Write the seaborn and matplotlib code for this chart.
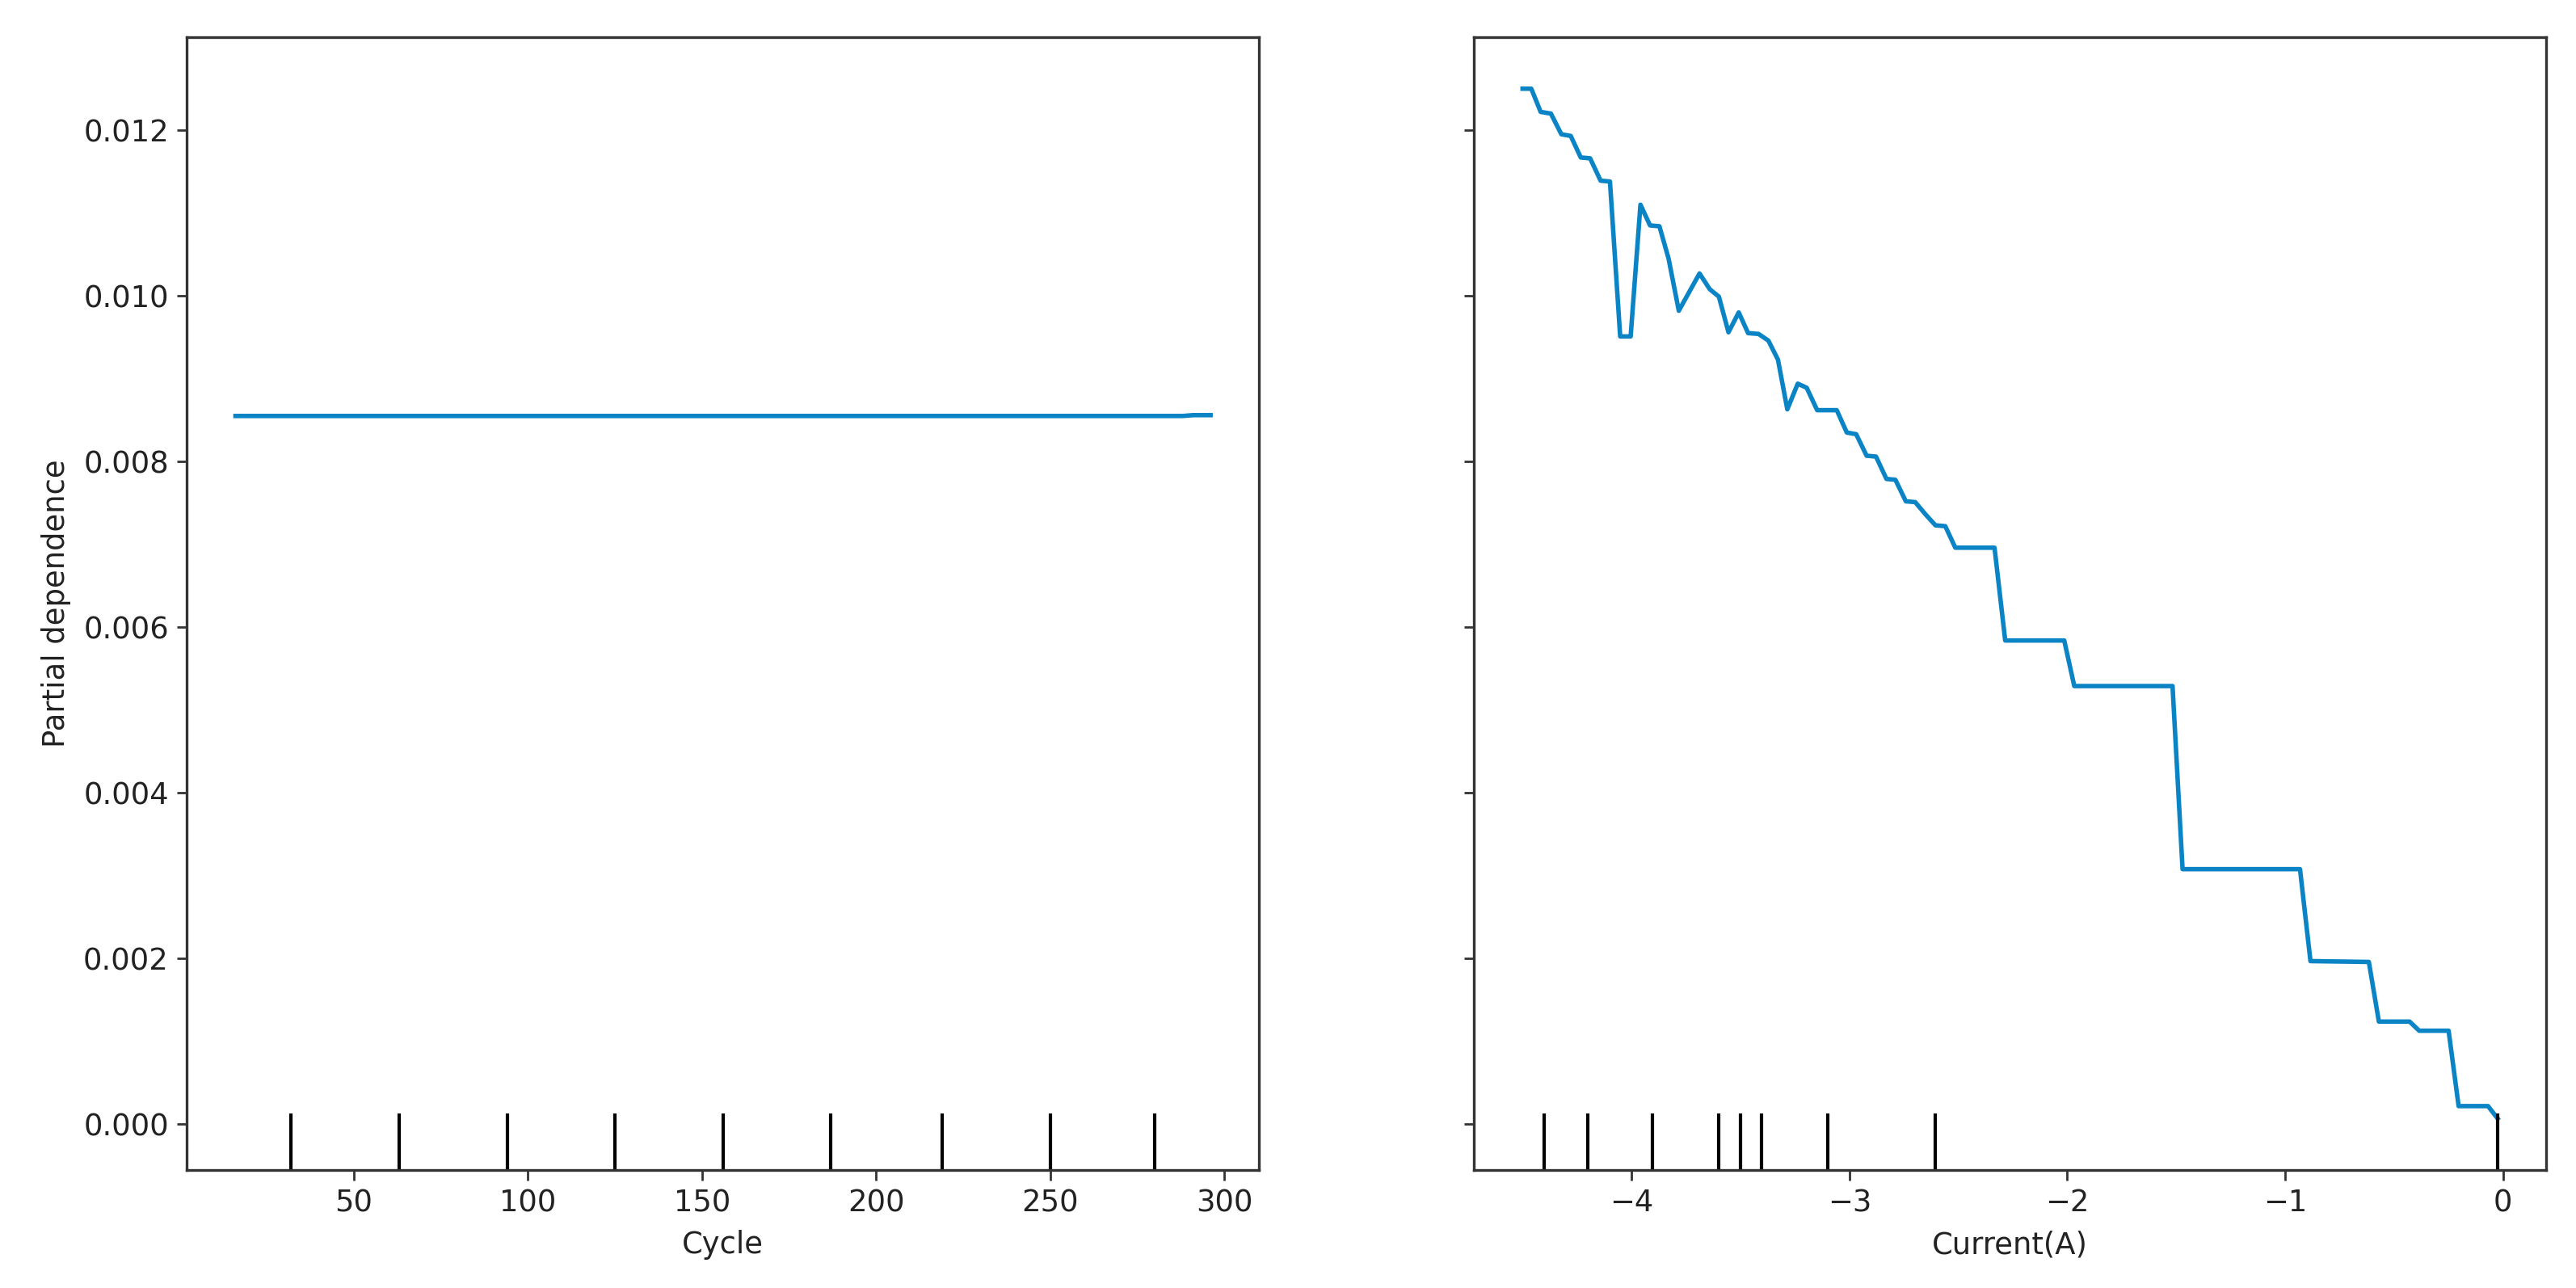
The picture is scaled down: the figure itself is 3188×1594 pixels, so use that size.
"""
Partial dependence plots: Cycle and Current(A).
"""
import numpy as np
import pandas as pd
import matplotlib
matplotlib.use('Agg')
import matplotlib.pyplot as plt
import seaborn as sns

# Cycle panel (flat partial dependence)
cycle_x = [16, 288, 291, 296]
cycle_pd = [0.00855, 0.00855, 0.00856, 0.00856]
cycle_deciles = [32, 63, 94, 125, 156, 187, 219, 250, 280]

# Current(A) panel
current_x = [-4.50, -4.46, -4.417, -4.37, -4.322, -4.279, -4.233, -4.19, -4.142, -4.099,
             -4.052, -4.004, -3.959, -3.915, -3.872, -3.83, -3.783, -3.688, -3.641, -3.599,
             -3.555, -3.508, -3.465, -3.417, -3.372, -3.328, -3.285, -3.237, -3.196, -3.148,
             -3.058, -3.012, -2.969, -2.921, -2.878, -2.83, -2.789, -2.741, -2.698, -2.65,
             -2.605, -2.56, -2.514, -2.334, -2.285, -2.014, -1.968, -1.517, -1.471, -0.932,
             -0.884, -0.616, -0.57, -0.429, -0.385, -0.25, -0.204, -0.069, -0.025]
current_pd = [0.0125, 0.0125, 0.01222, 0.0122, 0.01195, 0.01193, 0.01167, 0.01166, 0.01139, 0.01138,
              0.00951, 0.00951, 0.0111, 0.01085, 0.01084, 0.01045, 0.00982, 0.01027, 0.01008, 0.00999,
              0.00956, 0.0098, 0.00955, 0.00954, 0.00946, 0.00923, 0.00863, 0.00894, 0.00889, 0.00862,
              0.00862, 0.00835, 0.00833, 0.00807, 0.00806, 0.00779, 0.00778, 0.00752, 0.00751, 0.00736,
              0.00723, 0.00722, 0.00696, 0.00696, 0.00584, 0.00584, 0.00529, 0.00529, 0.00308, 0.00308,
              0.00197, 0.00196, 0.00124, 0.00124, 0.00113, 0.00113, 0.00022, 0.00022, 0.00007]
current_deciles = [-4.40, -4.20, -3.905, -3.60, -3.50, -3.405, -3.10, -2.607, -0.025]

features = ["Cycle", "Current(A)"]
line_color = "#0b84c6"

plt.rcParams['font.family'] = ['DejaVu Sans']
plt.rcParams['font.size'] = 13.3
plt.rcParams['axes.linewidth'] = 1.2
plt.rcParams['axes.edgecolor'] = '#333333'
plt.rcParams['axes.labelpad'] = 5.5
plt.rcParams['xtick.major.size'] = 4.5
plt.rcParams['ytick.major.size'] = 4.5
plt.rcParams['xtick.major.width'] = 1.0
plt.rcParams['ytick.major.width'] = 1.0
plt.rcParams['xtick.color'] = '#333333'
plt.rcParams['ytick.color'] = '#333333'
plt.rcParams['xtick.labelcolor'] = '#222222'
plt.rcParams['ytick.labelcolor'] = '#222222'

fig, axes = plt.subplots(1, 2, figsize=(15.94, 7.97), dpi=200, sharey=True)
fig.subplots_adjust(left=0.0725, right=0.9885, bottom=0.0916, top=0.9711, wspace=0.2)

panels = [
    (pd.DataFrame({"x": cycle_x, "pd": cycle_pd}), cycle_deciles),
    (pd.DataFrame({"x": current_x, "pd": current_pd}), current_deciles),
]

for ax, name, (df, deciles) in zip(axes, features, panels):
    sns.lineplot(data=df, x="x", y="pd", ax=ax, color=line_color, linewidth=2.0,
                 sort=False, estimator=None)
    ax.set_xlabel(name, color='#222222')
    ax.set_ylabel("")

# keep autoscaled y range, then add decile marks at the bottom
ylim = axes[0].get_ylim()
for ax, (df, deciles) in zip(axes, panels):
    ax.vlines(deciles, 0, 0.05, transform=ax.get_xaxis_transform(), color='k', linewidth=1.5)
for ax in axes:
    ax.set_ylim(ylim)

axes[0].set_ylabel("Partial dependence", color='#222222')

fig.savefig("out.png", dpi=200)
plt.close(fig)
